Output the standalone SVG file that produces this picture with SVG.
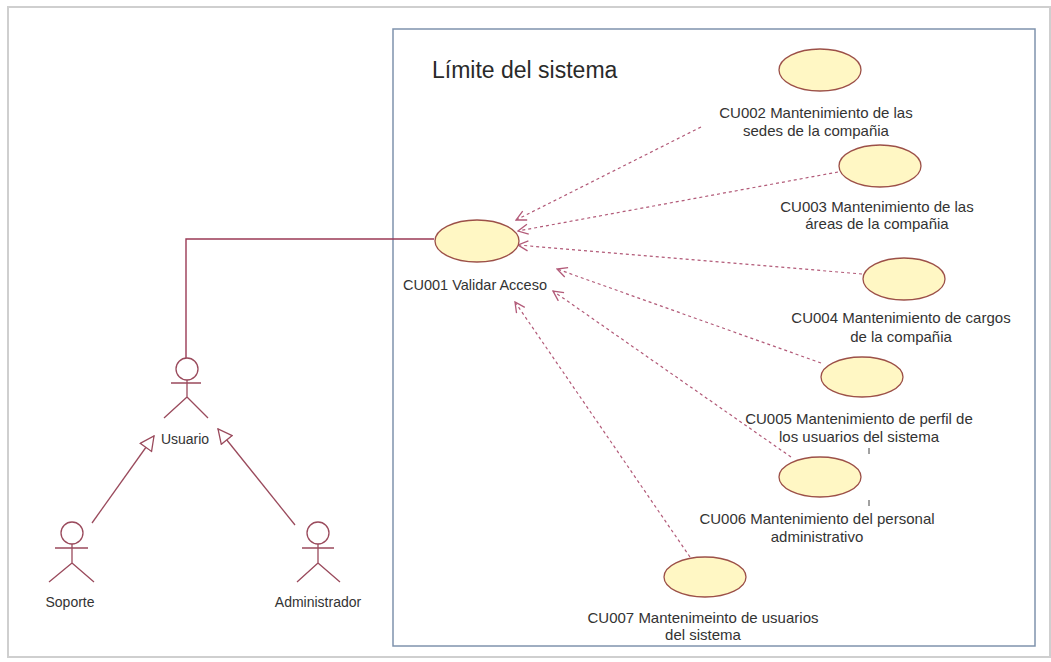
<svg xmlns="http://www.w3.org/2000/svg" width="1051" height="662" viewBox="0 0 1051 662">
<style>
  .frame{fill:#ffffff;stroke:#cfcfcf;stroke-width:2}
  .boundary{fill:#ffffff;stroke:#7f93ad;stroke-width:1.5}
  .uc{fill:#fff7c4;stroke:#9c5048;stroke-width:1.3}
  .lbl{font-family:"Liberation Sans",Arial,sans-serif;font-size:15px;fill:#333333;text-anchor:middle}
  .albl{font-family:"Liberation Sans",Arial,sans-serif;font-size:14px;fill:#333333;text-anchor:middle}
  .title{font-family:"Liberation Sans",Arial,sans-serif;font-size:23px;fill:#2a2a2a}
  .actor{fill:none;stroke:#9a4a5c;stroke-width:1.3}
  .assoc{fill:none;stroke:#9a3a55;stroke-width:1.4}
  .dep{fill:none;stroke:#b25a78;stroke-width:1.2;stroke-dasharray:3,3}
  .gen{fill:none;stroke:#9a4a5c;stroke-width:1.3}
  .tick{stroke:#444;stroke-width:1}
</style>
<defs>
  <marker id="open" viewBox="0 0 12 12" refX="11" refY="6" markerWidth="12" markerHeight="12" markerUnits="userSpaceOnUse" orient="auto">
    <path d="M1,1 L11,6 L1,11" fill="none" stroke="#b25a78" stroke-width="1.3"/>
  </marker>
  <marker id="tri" viewBox="0 0 16 16" refX="15" refY="8" markerWidth="16" markerHeight="16" markerUnits="userSpaceOnUse" orient="auto">
    <path d="M1,1 L15,8 L1,15 Z" fill="#ffffff" stroke="#9a4a5c" stroke-width="1.3"/>
  </marker>
</defs>
<rect x="0" y="0" width="1051" height="662" fill="#ffffff"/>
<rect class="frame" x="8" y="7" width="1042" height="650"/>
<rect class="boundary" x="393" y="29" width="642" height="617"/>
<text class="title" x="432" y="78">Límite del sistema</text>

<g id="connectors">
  <polyline class="assoc" points="186,358 186,239 434,239"/>
  <line class="dep" x1="701" y1="127" x2="516" y2="220" marker-end="url(#open)"/>
  <line class="dep" x1="838" y1="172" x2="518" y2="231" marker-end="url(#open)"/>
  <line class="dep" x1="862" y1="274" x2="518" y2="245" marker-end="url(#open)"/>
  <line class="dep" x1="821" y1="363" x2="557" y2="269" marker-end="url(#open)"/>
  <line class="dep" x1="791" y1="457" x2="553" y2="291" marker-end="url(#open)"/>
  <line class="dep" x1="690" y1="557" x2="515" y2="302" marker-end="url(#open)"/>
  <line class="gen" x1="92" y1="523" x2="154" y2="436" marker-end="url(#tri)"/>
  <line class="gen" x1="295" y1="525" x2="218" y2="429" marker-end="url(#tri)"/>
</g>

<g id="CU001">
  <ellipse class="uc" cx="477" cy="241" rx="42" ry="21"/>
  <text class="lbl" x="475" y="290" style="font-size:14.5px">CU001 Validar Acceso</text>
</g>
<g id="CU002">
  <ellipse class="uc" cx="820" cy="70" rx="41" ry="21"/>
  <text class="lbl" x="816" y="118">CU002 Mantenimiento de las</text>
  <text class="lbl" x="816" y="136">sedes de la compañia</text>
</g>
<g id="CU003">
  <ellipse class="uc" cx="880" cy="166" rx="41" ry="21"/>
  <text class="lbl" x="877" y="212">CU003 Mantenimiento de las</text>
  <text class="lbl" x="877" y="229">áreas de la compañia</text>
</g>
<g id="CU004">
  <ellipse class="uc" cx="904" cy="279" rx="41" ry="21"/>
  <text class="lbl" x="901" y="323">CU004 Mantenimiento de cargos</text>
  <text class="lbl" x="901" y="342">de la compañia</text>
</g>
<g id="CU005">
  <ellipse class="uc" cx="862" cy="377" rx="41" ry="20"/>
  <text class="lbl" x="859" y="424">CU005 Mantenimiento de perfil de</text>
  <text class="lbl" x="859" y="442">los usuarios del sistema</text>
  <line class="tick" x1="869" y1="448" x2="869" y2="454"/>
</g>
<g id="CU006">
  <ellipse class="uc" cx="820" cy="477" rx="41" ry="20"/>
  <line class="tick" x1="869" y1="500" x2="869" y2="506"/>
  <text class="lbl" x="817" y="524">CU006 Mantenimiento del personal</text>
  <text class="lbl" x="817" y="542">administrativo</text>
</g>
<g id="CU007">
  <ellipse class="uc" cx="705" cy="577" rx="41" ry="20"/>
  <text class="lbl" x="703" y="623">CU007 Mantenimeinto de usuarios</text>
  <text class="lbl" x="703" y="640">del sistema</text>
</g>

<g id="Usuario">
  <circle class="actor" cx="187" cy="369" r="11"/>
  <path class="actor" d="M187,380 V397 M171,383 H201 M187,397 L164,418 M187,397 L208,418"/>
  <text class="albl" x="185" y="444">Usuario</text>
</g>
<g id="Soporte">
  <circle class="actor" cx="72" cy="533" r="11"/>
  <path class="actor" d="M72,544 V563 M55,548 H88 M72,563 L49,582 M72,563 L94,582"/>
  <text class="albl" x="70" y="607">Soporte</text>
</g>
<g id="Administrador">
  <circle class="actor" cx="318" cy="533" r="11"/>
  <path class="actor" d="M318,544 V563 M302,548 H334 M318,563 L297,582 M318,563 L340,582"/>
  <text class="albl" x="318" y="607">Administrador</text>
</g>
</svg>
